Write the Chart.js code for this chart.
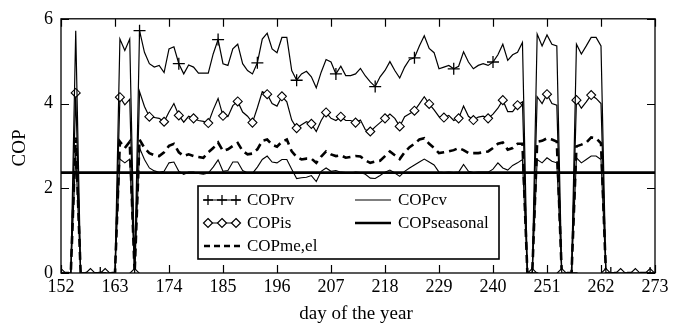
<!DOCTYPE html>
<html>
<head>
<meta charset="utf-8">
<script src="https://cdn.jsdelivr.net/npm/chart.js@4.4.1/dist/chart.umd.min.js"></script>
<style>
  html, body { margin: 0; padding: 0; background: #fff; }
  #wrap { width: 683px; height: 325px; }
</style>
</head>
<body>
<div id="wrap"><canvas id="myChart" width="683" height="325"></canvas></div>
<script>
// day of the year, 152 .. 273
const firstDay = 152;
const days = Array.from({ length: 122 }, (_, i) => firstDay + i);

const copRv = [
  0, 0, 0, 5.72, 0, 0, 0, 0, 0, 0, 0, 0, 5.52, 5.25, 5.52, 0,
  5.72, 5.21, 4.94, 4.86, 4.90, 4.73, 5.29, 5.34, 4.94, 4.70, 4.91, 4.86, 4.72, 4.72, 4.72, 5.17,
  5.51, 4.94, 4.90, 5.29, 5.40, 4.94, 4.78, 4.70, 4.96, 5.52, 5.66, 5.29, 5.20, 5.56, 5.56, 4.78,
  4.55, 4.70, 4.76, 4.63, 4.37, 4.74, 5.04, 4.98, 4.70, 4.88, 4.66, 4.66, 4.70, 4.83, 4.65, 4.51,
  4.40, 4.63, 4.78, 4.99, 4.78, 4.60, 4.86, 5.04, 5.08, 5.36, 5.60, 5.30, 5.20, 4.82, 4.86, 4.90,
  4.82, 4.88, 5.22, 4.98, 4.82, 4.90, 4.94, 4.90, 4.98, 5.15, 5.40, 5.02, 5.15, 5.21, 5.44, 0,
  0, 5.64, 5.36, 5.62, 5.40, 5.36, 0, 0, 0, 5.40, 5.17, 5.36, 5.56, 5.56, 5.36,
  0, 0, 0, 0, 0, 0, 0, 0, 0, 0, 0
];
const copIs = [
  0, 0, 0, 4.25, 0, 0, 0, 0, 0, 0, 0, 0, 4.15, 3.97, 4.10, 0,
  4.28, 3.93, 3.69, 3.67, 3.65, 3.57, 3.80, 4.00, 3.72, 3.56, 3.70, 3.65, 3.60, 3.58, 3.54, 3.85,
  4.12, 3.71, 3.69, 3.95, 4.05, 3.80, 3.70, 3.55, 3.90, 4.28, 4.22, 4.00, 3.94, 4.17, 4.04, 3.61,
  3.42, 3.50, 3.57, 3.52, 3.34, 3.60, 3.79, 3.65, 3.60, 3.69, 3.60, 3.60, 3.55, 3.61, 3.38, 3.34,
  3.45, 3.55, 3.65, 3.75, 3.65, 3.46, 3.69, 3.76, 3.83, 3.99, 4.16, 3.99, 3.85, 3.69, 3.67, 3.72,
  3.60, 3.65, 3.94, 3.70, 3.61, 3.68, 3.70, 3.65, 3.75, 3.89, 4.08, 3.81, 3.81, 3.96, 4.04, 0,
  0, 4.16, 4.00, 4.22, 4.00, 3.96, 0, 0, 0, 4.08, 3.89, 4.04, 4.20, 4.12, 4.00,
  0, 0, 0, 0, 0, 0, 0, 0, 0, 0, 0
];
const copMeEl = [
  0, 0, 0, 3.20, 0, 0, 0, 0, 0, 0, 0, 0, 3.10, 2.95, 3.10, 0,
  3.15, 2.95, 2.83, 2.78, 2.76, 2.85, 3.00, 3.05, 2.85, 2.76, 2.80, 2.76, 2.74, 2.72, 2.85, 2.95,
  3.08, 2.88, 2.92, 3.00, 3.07, 2.88, 2.80, 2.82, 2.92, 3.12, 3.15, 3.03, 2.98, 3.10, 3.15, 2.87,
  2.74, 2.68, 2.70, 2.70, 2.60, 2.75, 2.87, 2.80, 2.76, 2.78, 2.72, 2.74, 2.76, 2.75, 2.66, 2.60,
  2.63, 2.65, 2.76, 2.87, 2.78, 2.69, 2.85, 2.97, 3.05, 3.15, 3.18, 3.05, 2.95, 2.83, 2.85, 2.87,
  2.90, 2.95, 2.90, 2.83, 2.83, 2.83, 2.85, 2.87, 2.95, 3.05, 3.08, 2.91, 2.95, 3.05, 3.05, 0,
  0, 3.10, 3.12, 3.18, 3.15, 3.10, 0, 0, 0, 2.99, 3.03, 3.08, 3.20, 3.18, 3.06,
  0, 0, 0, 0, 0, 0, 0, 0, 0, 0, 0
];
const copCv = [
  0, 0, 0, 2.80, 0, 0, 0, 0, 0, 0, 0, 0, 2.69, 2.60, 2.69, 0,
  2.95, 2.68, 2.48, 2.41, 2.38, 2.40, 2.60, 2.62, 2.40, 2.33, 2.38, 2.38, 2.35, 2.33, 2.36, 2.50,
  2.67, 2.40, 2.42, 2.62, 2.62, 2.42, 2.36, 2.35, 2.50, 2.68, 2.76, 2.62, 2.60, 2.68, 2.68, 2.45,
  2.23, 2.25, 2.26, 2.30, 2.16, 2.40, 2.48, 2.40, 2.42, 2.38, 2.37, 2.36, 2.38, 2.37, 2.33, 2.24,
  2.23, 2.30, 2.38, 2.43, 2.36, 2.28, 2.40, 2.48, 2.55, 2.62, 2.69, 2.62, 2.55, 2.38, 2.37, 2.38,
  2.37, 2.38, 2.56, 2.40, 2.37, 2.38, 2.38, 2.38, 2.45, 2.60, 2.48, 2.43, 2.54, 2.60, 2.68, 0,
  0, 2.68, 2.60, 2.72, 2.64, 2.60, 0, 0, 0, 2.72, 2.60, 2.68, 2.76, 2.76, 2.68,
  0, 0, 0, 0, 0, 0, 0, 0, 0, 0, 0
];
const copSeasonal = 2.37;

const xTicks = { min: 152, max: 273, step: 11 };
const yTicks = { min: 0, max: 6, step: 2 };

const FONT = 'Liberation Serif';

function pts(vals) {
  return vals.map((v, i) => ({ x: days[i], y: v }));
}

// frame, inward ticks, axis titles and the boxed legend
const framePlugin = {
  id: 'framePlugin',
  afterDraw(chart) {
    const ctx = chart.ctx;
    const a = chart.chartArea;
    const xs = chart.scales.x, ys = chart.scales.y;
    ctx.save();
    ctx.strokeStyle = '#000';
    ctx.lineWidth = 1.3;
    ctx.strokeRect(a.left, a.top, a.right - a.left, a.bottom - a.top);
    ctx.lineWidth = 1.2;
    ctx.beginPath();
    xs.ticks.forEach(t => {
      const px = Math.round(xs.getPixelForValue(t.value)) + 0.5;
      ctx.moveTo(px, a.bottom); ctx.lineTo(px, a.bottom - 8);
      ctx.moveTo(px, a.top); ctx.lineTo(px, a.top + 8);
    });
    ys.ticks.forEach(t => {
      const py = Math.round(ys.getPixelForValue(t.value)) + 0.5;
      ctx.moveTo(a.left, py); ctx.lineTo(a.left + 8, py);
      ctx.moveTo(a.right, py); ctx.lineTo(a.right - 8, py);
    });
    ctx.stroke();

    ctx.fillStyle = '#000';
    ctx.font = '19px "' + FONT + '"';
    ctx.textAlign = 'center';
    ctx.textBaseline = 'middle';
    ctx.fillText('day of the year', (a.left + a.right) / 2 - 2, 314);
    ctx.translate(20, (a.top + a.bottom) / 2 + 2);
    ctx.rotate(-Math.PI / 2);
    ctx.fillText('COP', 0, 0);
    ctx.restore();
  },
  afterDatasetsDraw(chart) {
    const ctx = chart.ctx;
    ctx.save();
    const bx = 198, by = 186, bw = 301, bh = 73;
    ctx.fillStyle = '#fff';
    ctx.fillRect(bx, by, bw, bh);
    ctx.strokeStyle = '#000';
    ctx.lineWidth = 1.6;
    ctx.strokeRect(bx, by, bw, bh);

    const rows = [
      { label: 'COPrv', x: 204, y: 200, kind: 'cross' },
      { label: 'COPis', x: 204, y: 223, kind: 'diamond' },
      { label: 'COPme,el', x: 204, y: 246, kind: 'dash' },
      { label: 'COPcv', x: 355, y: 200, kind: 'thin' },
      { label: 'COPseasonal', x: 355, y: 223, kind: 'thick' }
    ];
    ctx.font = '17px "' + FONT + '"';
    ctx.textBaseline = 'middle';
    ctx.textAlign = 'left';
    rows.forEach(r => {
      const x0 = r.x, x1 = r.x + 36;
      ctx.strokeStyle = '#000';
      ctx.setLineDash(r.kind === 'dash' ? [6, 4] : []);
      ctx.lineWidth = (r.kind === 'dash' || r.kind === 'thick') ? 2.6 : 1.2;
      ctx.beginPath();
      ctx.moveTo(x0, r.y); ctx.lineTo(x1, r.y);
      ctx.stroke();
      ctx.setLineDash([]);
      if (r.kind === 'cross' || r.kind === 'diamond') {
        [x0 + 4, x0 + 18, x0 + 32].forEach(mx => {
          ctx.beginPath();
          if (r.kind === 'cross') {
            ctx.lineWidth = 1.3;
            ctx.moveTo(mx - 5, r.y); ctx.lineTo(mx + 5, r.y);
            ctx.moveTo(mx, r.y - 5); ctx.lineTo(mx, r.y + 5);
            ctx.stroke();
          } else {
            ctx.lineWidth = 1.2;
            ctx.moveTo(mx, r.y - 4.5); ctx.lineTo(mx + 4.5, r.y);
            ctx.lineTo(mx, r.y + 4.5); ctx.lineTo(mx - 4.5, r.y);
            ctx.closePath();
            ctx.fillStyle = '#fff';
            ctx.fill();
            ctx.stroke();
          }
        });
      }
      ctx.fillStyle = '#000';
      ctx.fillText(r.label, x1 + 7, r.y + 1);
    });
    ctx.restore();
  }
};

const ctx = document.getElementById('myChart');

new Chart(ctx, {
  type: 'line',
  data: {
    datasets: [
      {
        label: 'COPrv',
        data: pts(copRv),
        borderColor: '#000',
        borderWidth: 1.2,
        pointStyle: 'cross',
        pointRadius: c => (c.dataIndex % 8 === 0 ? 6 : 0),
        pointBorderColor: '#000',
        pointBorderWidth: 1.3,
        tension: 0
      },
      {
        label: 'COPis',
        data: pts(copIs),
        borderColor: '#000',
        borderWidth: 1.2,
        pointStyle: 'rectRot',
        pointRadius: c => (c.dataIndex % 3 === 0 ? 4.5 : 0),
        pointBackgroundColor: '#fff',
        pointBorderColor: '#000',
        pointBorderWidth: 1.1,
        tension: 0
      },
      {
        label: 'COPme,el',
        data: pts(copMeEl),
        borderColor: '#000',
        borderWidth: 2.6,
        borderDash: [8, 5],
        pointRadius: 0,
        tension: 0
      },
      {
        label: 'COPcv',
        data: pts(copCv),
        borderColor: '#000',
        borderWidth: 1.1,
        pointRadius: 0,
        tension: 0
      },
      {
        label: 'COPseasonal',
        data: [{ x: xTicks.min, y: copSeasonal }, { x: xTicks.max, y: copSeasonal }],
        borderColor: '#000',
        borderWidth: 2.6,
        pointRadius: 0,
        tension: 0
      }
    ]
  },
  options: {
    responsive: false,
    animation: false,
    devicePixelRatio: 1,
    layout: { padding: { left: 0, right: 28, top: 16, bottom: 0 } },
    plugins: {
      legend: { display: false },
      tooltip: { enabled: false }
    },
    scales: {
      x: {
        type: 'linear',
        min: xTicks.min,
        max: xTicks.max,
        afterFit: s => { s.height = 52; },
        grid: { display: false, drawTicks: false },
        border: { display: false },
        ticks: {
          stepSize: xTicks.step,
          padding: 3,
          color: '#000',
          maxRotation: 0,
          font: { family: FONT, size: 18 }
        }
      },
      y: {
        min: yTicks.min,
        max: yTicks.max,
        afterFit: s => { s.width = 61; },
        grid: { display: false, drawTicks: false },
        border: { display: false },
        ticks: {
          stepSize: yTicks.step,
          padding: 8,
          color: '#000',
          font: { family: FONT, size: 18 }
        }
      }
    }
  },
  plugins: [framePlugin]
});
</script>
</body>
</html>
